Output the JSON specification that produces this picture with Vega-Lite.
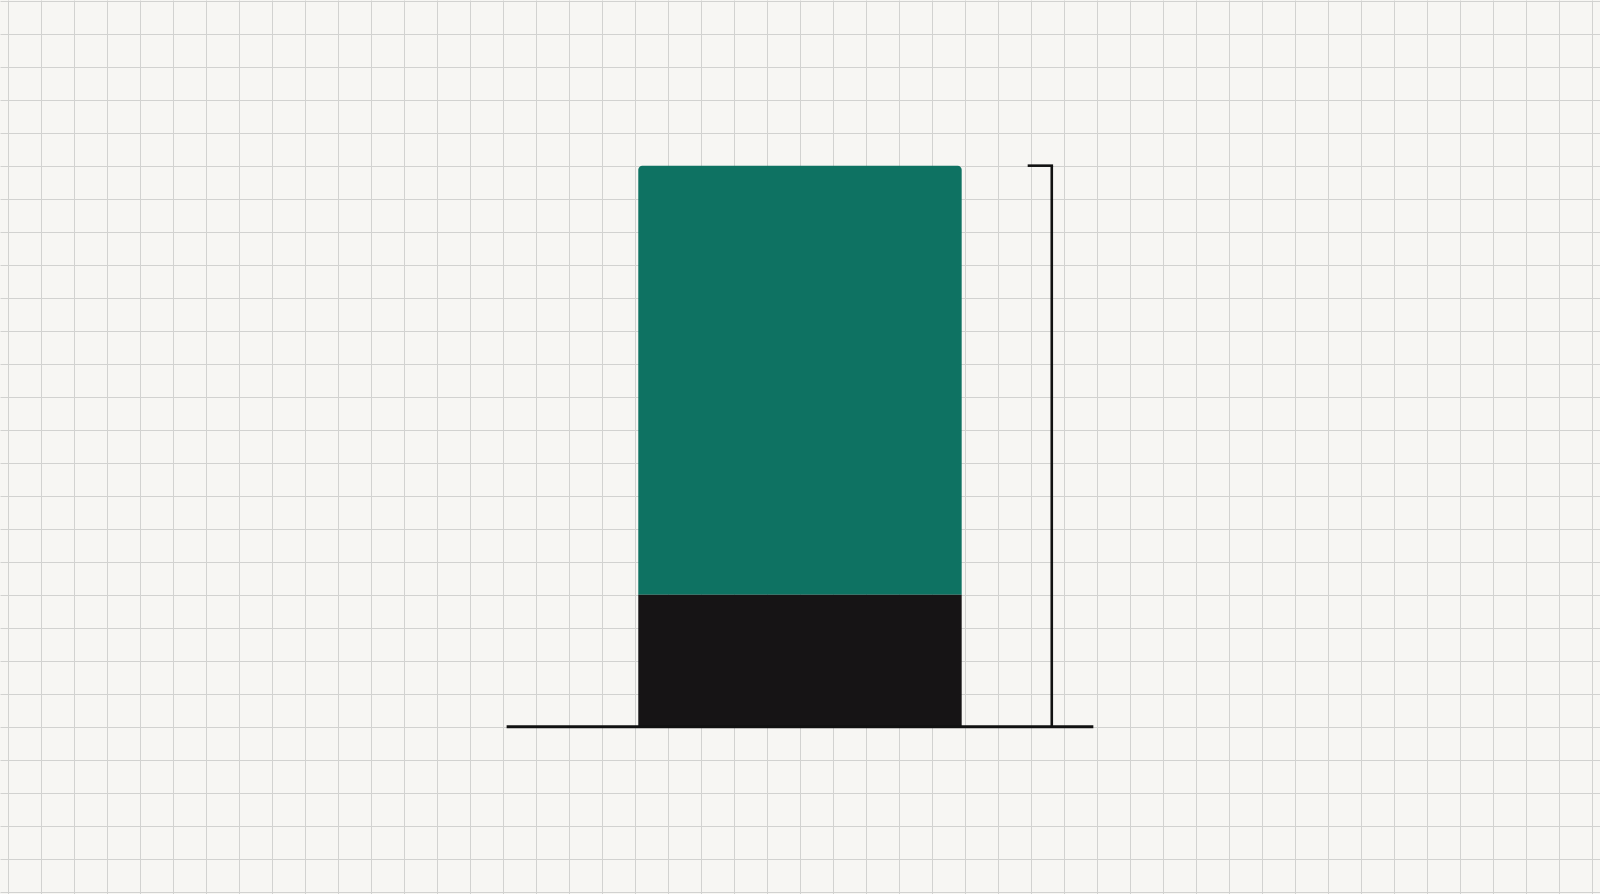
{
  "$schema": "https://vega.github.io/schema/vega-lite/v6.json",
  "width": 1600,
  "height": 894,
  "autosize": {"type": "fit", "contains": "padding"},
  "padding": 0,
  "background": "#f7f6f3",
  "config": {
    "view": {"stroke": null},
    "axis": {"grid": true, "gridColor": "#d2d2d0", "gridWidth": 1, "labels": false, "ticks": false, "domain": false, "title": null}
  },
  "datasets": {
    "parts": [
      {"part": "base", "x0": 18.09, "x1": 27.89, "y0": 0, "y1": 4},
      {"part": "top", "x0": 18.09, "x1": 27.89, "y0": 4, "y1": 17}
    ],
    "baseline": [
      {"x0": 14.1, "x1": 31.88, "y0": 0, "y1": 0}
    ],
    "bracket": [
      {"x0": 30.62, "x1": 30.62, "y0": 0, "y1": 17},
      {"x0": 29.89, "x1": 30.66, "y0": 17, "y1": 17}
    ]
  },
  "encoding": {
    "x": {"field": "x0", "type": "quantitative", "scale": {"domain": [-1.252, 47.233], "nice": false, "zero": false},
      "axis": {"values": [-1,0,1,2,3,4,5,6,7,8,9,10,11,12,13,14,15,16,17,18,19,20,21,22,23,24,25,26,27,28,29,30,31,32,33,34,35,36,37,38,39,40,41,42,43,44,45,46,47]}},
    "x2": {"field": "x1"},
    "y": {"field": "y0", "type": "quantitative", "scale": {"domain": [-5.07, 22.02], "nice": false, "zero": false},
      "axis": {"values": [-5,-4,-3,-2,-1,0,1,2,3,4,5,6,7,8,9,10,11,12,13,14,15,16,17,18,19,20,21,22]}},
    "y2": {"field": "y1"}
  },
  "layer": [
    {
      "data": {"name": "parts"},
      "transform": [{"filter": "datum.part == 'top'"}],
      "mark": {"type": "rect", "color": "#0e7262", "cornerRadiusTopLeft": 4, "cornerRadiusTopRight": 4}
    },
    {
      "data": {"name": "parts"},
      "transform": [{"filter": "datum.part == 'base'"}],
      "mark": {"type": "rect", "color": "#161415"}
    },
    {
      "data": {"name": "baseline"},
      "mark": {"type": "rule", "color": "#111111", "strokeWidth": 3}
    },
    {
      "data": {"name": "bracket"},
      "mark": {"type": "rule", "color": "#111111", "strokeWidth": 2.6}
    }
  ]
}
